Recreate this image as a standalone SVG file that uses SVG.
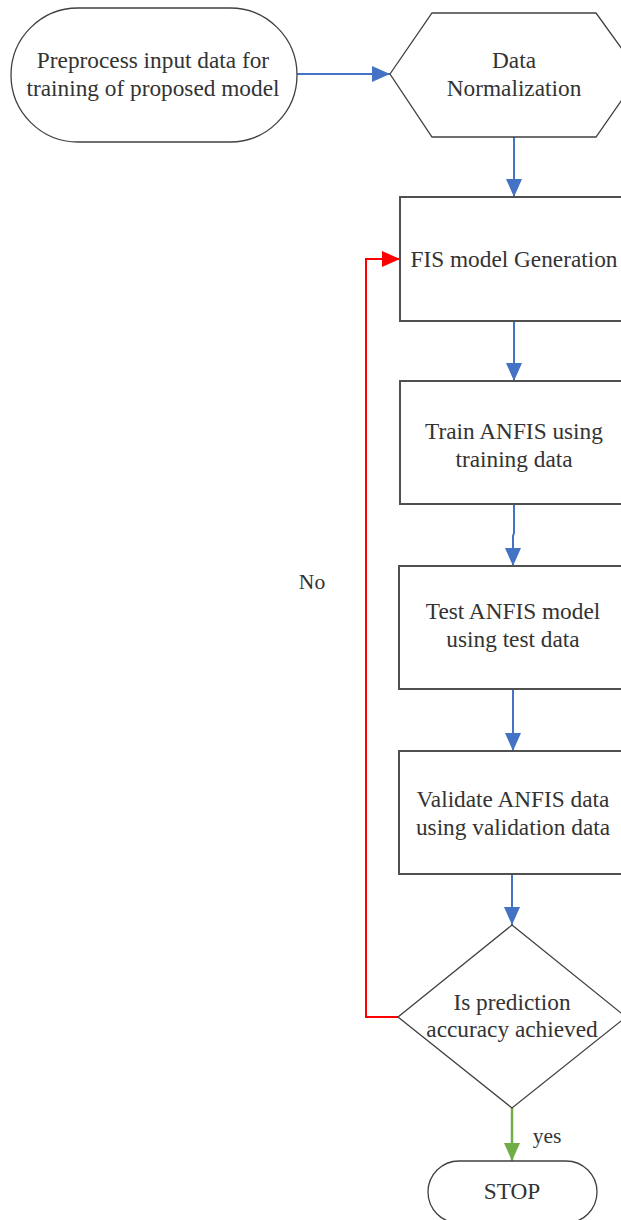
<svg xmlns="http://www.w3.org/2000/svg" width="621" height="1220" viewBox="0 0 621 1220">
  <style>
    .shape { fill: #ffffff; stroke: #404040; stroke-width: 1.3; }
    .box { fill: #ffffff; stroke: #505050; stroke-width: 2; }
    .label { font-family: "Liberation Serif", "Times New Roman", serif; font-size: 23.3px; fill: #333333; text-anchor: middle; }
    .small { font-size: 21.5px; }
    .flow { fill: none; stroke: #4472C4; stroke-width: 2; }
    .loop { fill: none; stroke: #FF0000; stroke-width: 2; }
    .done { fill: none; stroke: #70AD47; stroke-width: 2.5; }
  </style>
  <defs>
    <marker id="headBlue" markerUnits="userSpaceOnUse" markerWidth="18" markerHeight="16" refX="18" refY="8" orient="auto">
      <path d="M0,0 L18,8 L0,16 z" fill="#4472C4"/>
    </marker>
    <marker id="headRed" markerUnits="userSpaceOnUse" markerWidth="18" markerHeight="16" refX="18" refY="8" orient="auto">
      <path d="M0,0 L18,8 L0,16 z" fill="#FF0000"/>
    </marker>
    <marker id="headGreen" markerUnits="userSpaceOnUse" markerWidth="18" markerHeight="16" refX="18" refY="8" orient="auto">
      <path d="M0,0 L18,8 L0,16 z" fill="#70AD47"/>
    </marker>
  </defs>

  <rect width="621" height="1220" fill="#ffffff"/>

  <!-- connectors -->
  <g id="connectors">
    <line class="flow" x1="297" y1="74" x2="390" y2="74" marker-end="url(#headBlue)"/>
    <line class="flow" x1="514" y1="137" x2="514" y2="197" marker-end="url(#headBlue)"/>
    <line class="flow" x1="514" y1="321" x2="514" y2="381" marker-end="url(#headBlue)"/>
    <path class="flow" d="M514,504 L514,533 L513,536 L513,566" marker-end="url(#headBlue)"/>
    <line class="flow" x1="513" y1="689" x2="513" y2="751" marker-end="url(#headBlue)"/>
    <line class="flow" x1="512" y1="874" x2="512" y2="925" marker-end="url(#headBlue)"/>
    <path class="loop" d="M398,1017 L366,1017 L366,259 L400,259" marker-end="url(#headRed)"/>
    <line class="done" x1="512" y1="1108" x2="512" y2="1161" marker-end="url(#headGreen)"/>
    <text class="label small" x="312" y="589">No</text>
    <text class="label small" x="547" y="1143">yes</text>
  </g>

  <!-- start terminal -->
  <g id="start">
    <rect class="shape" x="11" y="8" width="286" height="134" rx="67" ry="67"/>
    <text class="label" x="153" y="68">Preprocess input data for</text>
    <text class="label" x="153" y="96">training of proposed model</text>
  </g>

  <!-- preparation step -->
  <g id="normalize">
    <polygon class="shape" points="390,74 432,13 596,13 640,74 596,137 432,137"/>
    <text class="label" x="514" y="68">Data</text>
    <text class="label" x="514" y="96">Normalization</text>
  </g>

  <g id="fis">
    <rect class="box" x="400" y="197" width="228" height="124"/>
    <text class="label" x="514" y="267">FIS model Generation</text>
  </g>

  <g id="train">
    <rect class="box" x="400" y="381" width="228" height="123"/>
    <text class="label" x="514" y="439">Train ANFIS using</text>
    <text class="label" x="514" y="467">training data</text>
  </g>

  <g id="test">
    <rect class="box" x="399" y="566" width="228" height="123"/>
    <text class="label" x="513" y="619">Test ANFIS model</text>
    <text class="label" x="513" y="647">using test data</text>
  </g>

  <g id="validate">
    <rect class="box" x="399" y="751" width="228" height="123"/>
    <text class="label" x="513" y="807">Validate ANFIS data</text>
    <text class="label" x="513" y="835">using validation data</text>
  </g>

  <!-- decision -->
  <g id="decision">
    <polygon class="shape" points="512,925 626,1017 512,1108 398,1017"/>
    <text class="label" x="512" y="1010">Is prediction</text>
    <text class="label" x="512" y="1037">accuracy achieved</text>
  </g>

  <!-- end terminal -->
  <g id="stop">
    <rect class="shape" x="428" y="1161" width="169" height="62" rx="31" ry="31"/>
    <text class="label" x="512" y="1199">STOP</text>
  </g>
</svg>
